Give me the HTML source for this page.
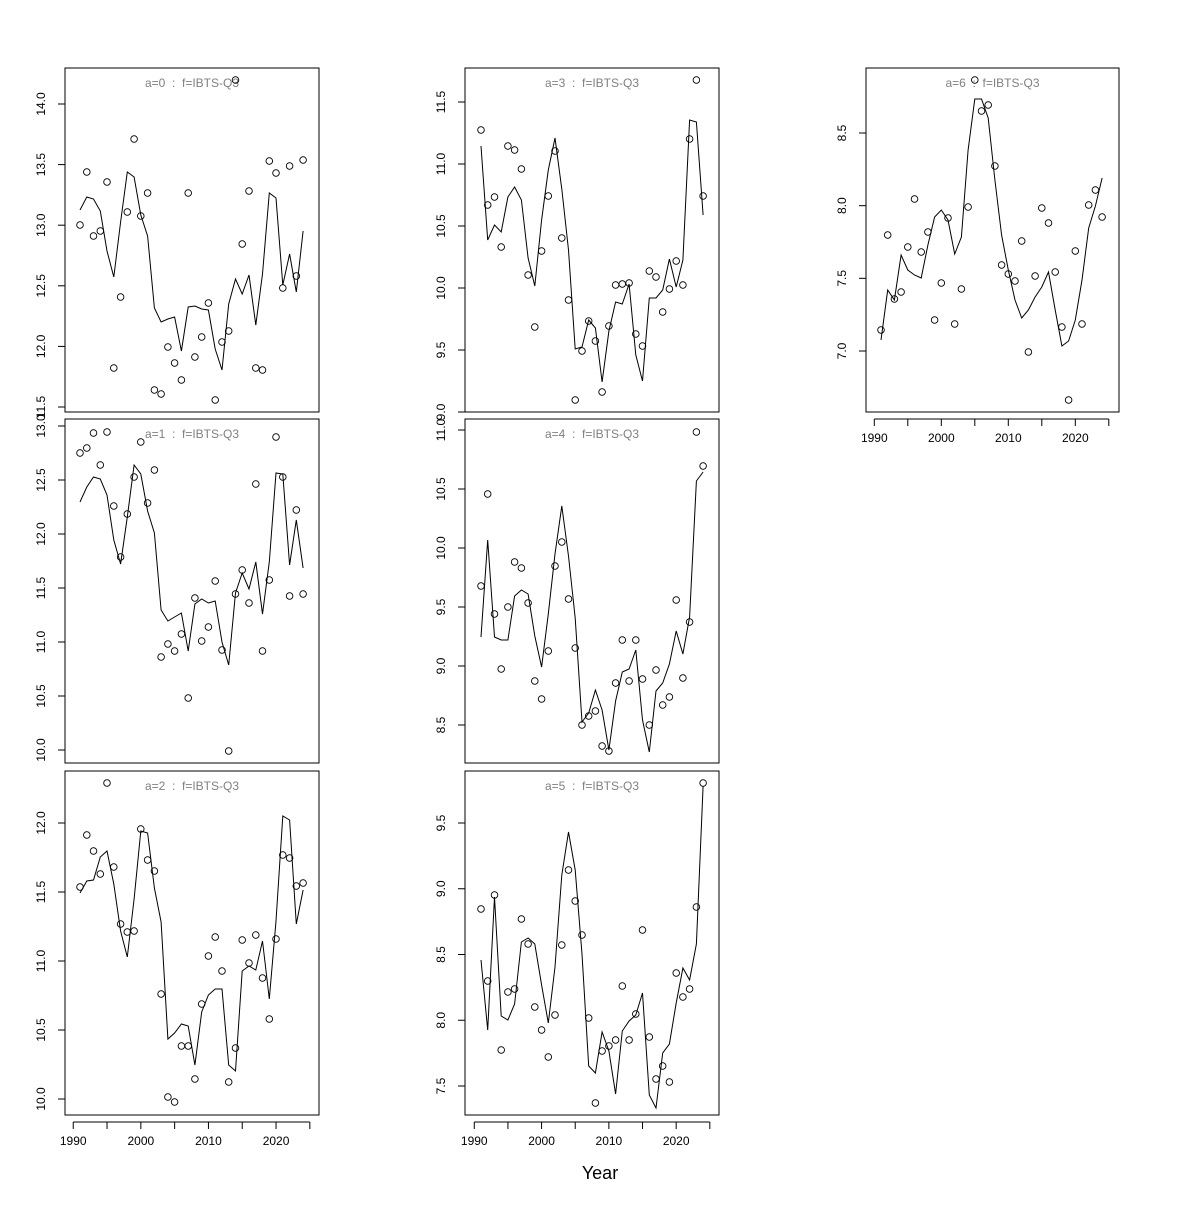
<!DOCTYPE html>
<html><head><meta charset="utf-8"><style>
html,body{margin:0;padding:0;background:#fff}
text{font-family:"Liberation Sans",sans-serif}
</style></head><body>
<svg id="s" width="1200" height="1200" xmlns="http://www.w3.org/2000/svg"></svg>
<script>
const P=[
{t:"a=0",bx:[65,68,319,412],x0:80,dx:6.76,ty:[[11.5,407],[14.0,104]],tk:[11.5,12.0,12.5,13.0,13.5,14.0],
pts:[225,172,236,231,182,368,297,212,139,216,193,390,394,347,363,380,193,357,337,303,400,342,331,80,244,191,368,370,161,173,288,166,276,160],
ln:[210,197,199,211,251,277,222,172,177,215,236,308,322,319,317,351,307,306,309,310,349,370,304,279,294,275,325,274,193,198,285,254,292,231]},
{t:"a=1",bx:[65,419,319,763],x0:80,dx:6.76,ty:[[10,750],[13,426]],tk:[10,10.5,11,11.5,12,12.5,13],
pts:[453,448,433,465,432,506,557,514,477,442,503,470,657,644,651,634,698,598,641,627,581,650,751,594,570,603,484,651,580,437,477,596,510,594],
ln:[502,487,477,479,495,540,564,517,465,474,511,533,610,621,617,613,651,604,599,603,601,642,665,593,573,589,562,614,562,473,474,565,520,568]},
{t:"a=2",bx:[65,771,319,1115],x0:80,dx:6.76,ty:[[10,1099],[12,823]],tk:[10,10.5,11,11.5,12],
pts:[887,835,851,874,783,867,924,932,931,829,860,871,994,1097,1102,1046,1046,1079,1004,956,937,971,1082,1048,940,963,935,978,1019,939,855,858,886,883],
ln:[893,881,880,857,851,884,931,957,899,831,833,888,922,1039,1033,1024,1026,1065,1012,995,989,989,1065,1071,971,966,970,941,999,921,816,820,924,890]},
{t:"a=3",bx:[465,68,719,412],x0:481,dx:6.73,ty:[[9,412],[11.5,102]],tk:[9,9.5,10,10.5,11,11.5],
pts:[130,205,197,247,146,150,169,275,327,251,196,151,238,300,400,351,321,341,392,326,285,284,283,334,346,271,277,312,289,261,285,139,80,196],
ln:[146,240,225,232,197,187,200,258,286,220,170,138,189,250,349,347,320,328,382,331,302,304,284,355,381,298,298,290,259,287,260,120,122,215]},
{t:"a=4",bx:[465,419,719,763],x0:481,dx:6.73,ty:[[8.5,725],[11,430]],tk:[8.5,9,9.5,10,10.5,11],
pts:[586,494,614,669,607,562,568,603,681,699,651,566,542,599,648,725,716,711,746,751,683,640,681,640,679,725,670,705,697,600,678,622,432,466],
ln:[637,540,637,640,640,596,590,594,636,667,614,554,506,556,618,722,713,690,710,750,701,672,669,650,720,752,691,683,664,631,654,617,481,472]},
{t:"a=5",bx:[465,771,719,1115],x0:481,dx:6.73,ty:[[7.5,1086],[9.5,823]],tk:[7.5,8,8.5,9,9.5],
pts:[909,981,895,1050,992,989,919,944,1007,1030,1057,1015,945,870,901,935,1018,1103,1051,1046,1040,986,1040,1014,930,1037,1079,1066,1082,973,997,989,907,783],
ln:[960,1030,897,1016,1020,1004,942,938,944,985,1023,967,875,832,870,954,1066,1073,1032,1051,1094,1031,1021,1015,993,1095,1108,1053,1044,1003,968,980,944,786]},
{t:"a=6",bx:[866,68,1119,412],x0:881,dx:6.7,ty:[[7,351],[8.5,133]],tk:[7,7.5,8,8.5],
pts:[330,235,299,292,247,199,252,232,320,283,218,324,289,207,80,111,105,166,265,274,281,241,352,276,208,223,272,327,400,251,324,205,190,217],
ln:[340,290,300,255,270,275,278,245,217,210,220,254,237,150,99,99,118,180,235,270,300,318,310,297,287,272,310,346,341,320,280,228,206,178]}
];
let h='';
for(const p of P){
 const [x1,y1,x2,y2]=p.bx;
 h+=`<rect x="${x1}" y="${y1}" width="${x2-x1}" height="${y2-y1}" fill="none" stroke="#000" stroke-width="1"/>`;
 h+=`<text x="${(x1+x2)/2}" y="${y1+19}" font-size="12" fill="#808080" text-anchor="middle">${p.t}&#160;&#160;:&#160;&#160;f=IBTS-Q3</text>`;
 const [a,b]=p.ty;const sc=(b[1]-a[1])/(b[0]-a[0]);
 const ys=p.tk.map(v=>a[1]+(v-a[0])*sc);
 h+=`<line x1="${x1}" x2="${x1}" y1="${ys[0]}" y2="${ys[ys.length-1]}" stroke="#000"/>`;
 p.tk.forEach((v,i)=>{h+=`<line x1="${x1-7}" x2="${x1}" y1="${ys[i]}" y2="${ys[i]}" stroke="#000"/>`;
  h+=`<text transform="translate(${x1-20},${ys[i]}) rotate(-90)" font-size="12" text-anchor="middle">${v.toFixed(1)}</text>`;});
 const xs=p.ln.map((_,i)=>p.x0+i*p.dx);
 h+=`<polyline fill="none" stroke="#000" stroke-width="1" points="${p.ln.map((y,i)=>xs[i].toFixed(1)+','+y).join(' ')}"/>`;
 p.pts.forEach((y,i)=>{h+=`<circle cx="${xs[i].toFixed(1)}" cy="${y}" r="3.3" fill="none" stroke="#000" stroke-width="0.9"/>`;});
}
function xax(x0,dx,y){
 const yrs=[1990,2000,2010,2020];const xs=yrs.map(v=>x0+(v-1991)*dx);
 let s=`<line x1="${xs[0]}" x2="${x0+(2025-1991)*dx}" y1="${y}" y2="${y}" stroke="#000"/>`;
 for(let v=1990;v<=2025;v+=5){const xx=x0+(v-1991)*dx;s+=`<line x1="${xx}" x2="${xx}" y1="${y}" y2="${y+7}" stroke="#000"/>`;}
 yrs.forEach((v,i)=>{s+=`<text x="${xs[i]}" y="${y+23}" font-size="12" text-anchor="middle">${v}</text>`;});
 return s;
}
h+=xax(80,6.76,1122);
h+=xax(481,6.73,1122);
h+=xax(881,6.7,419);
h+=`<text x="600" y="1179" font-size="18" text-anchor="middle">Year</text>`;
document.getElementById('s').innerHTML=h;
</script>
</body></html>
